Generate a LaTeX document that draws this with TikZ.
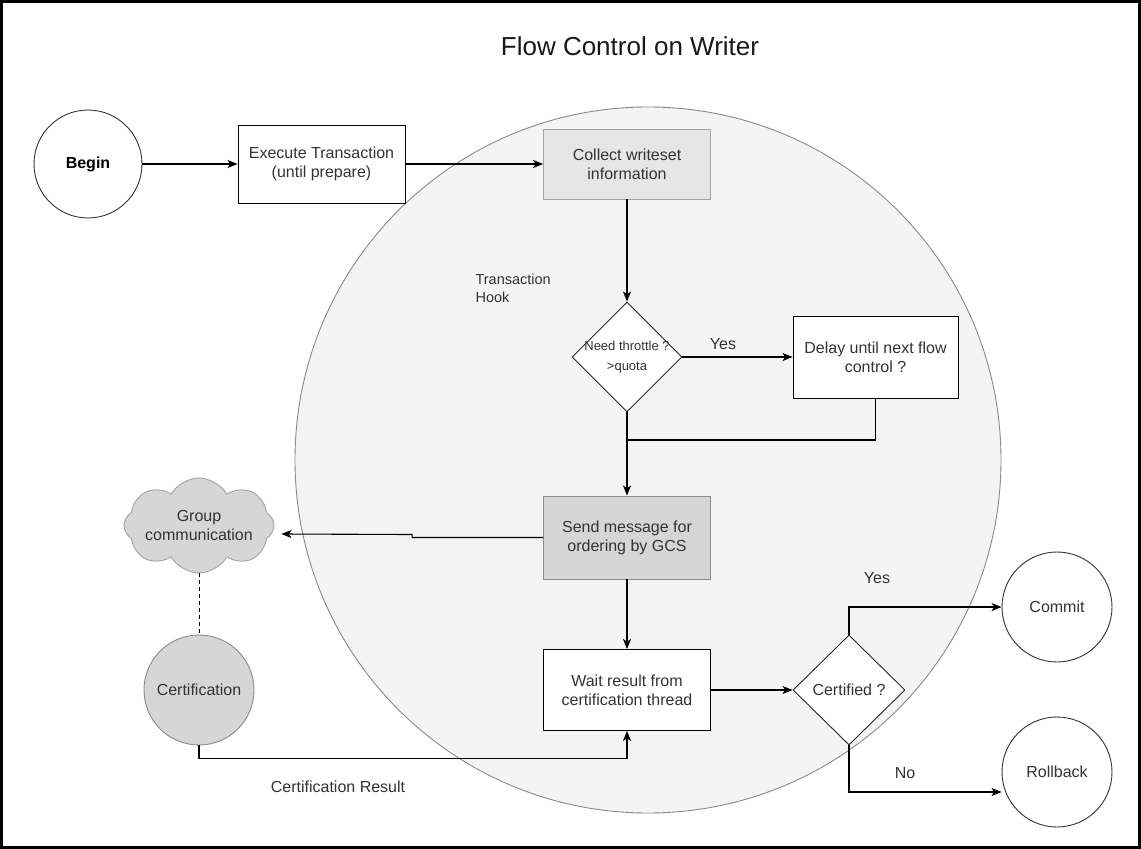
\documentclass[tikz,border=0pt]{standalone}
\usepackage{fontspec}
\setmainfont{Liberation Sans}
\usetikzlibrary{shapes.geometric,shapes.symbols,arrows.meta,calc}

\definecolor{hookfill}{HTML}{F4F4F4}
\definecolor{hookline}{HTML}{8A8A8A}
\definecolor{txt}{HTML}{333333}
\definecolor{lightbox}{HTML}{E6E6E6}
\definecolor{lightline}{HTML}{A3A3A3}
\definecolor{darkbox}{HTML}{D6D6D6}
\definecolor{darkline}{HTML}{8A8A8A}

\begin{document}
\begin{tikzpicture}[x=1pt,y=-1pt,
  every node/.style={font=\fontsize{16}{19}\selectfont, text=txt, align=center},
  stepbox/.style={draw=black, line width=0.9pt, fill=white, inner sep=0pt},
  graybox/.style={stepbox, draw=lightline, fill=lightbox},
  sendbox/.style={stepbox, draw=darkline, fill=darkbox},
  terminal/.style={circle, draw=black!80, line width=0.9pt, fill=white, inner sep=0pt, minimum size=110pt},
  decision/.style={diamond, draw=black!85, line width=0.9pt, fill=white, inner sep=0pt, aspect=1},
  flow/.style={draw=black, line width=1.1pt, -{Stealth[length=10pt,width=8pt,inset=2.5pt]}},
  plain/.style={draw=black, line width=1.1pt}
]
% page and frame
\fill[white] (0,0) rectangle (1141,849);
\draw[line width=3pt] (1.5,1.5) rectangle (1139.5,847.5);

% transaction hook region
\node[circle, draw=hookline, fill=hookfill, line width=0.9pt, minimum size=706pt, inner sep=0pt] (hook) at (648,460) {};

\node[font=\fontsize{26}{30}\selectfont, text=black!90] (title) at (630,46) {Flow Control on Writer};

% main column
\node[terminal, minimum size=108pt, font=\fontsize{16}{19}\selectfont\bfseries, text=black] (begin) at (88,164) {Begin};
\node[stepbox, minimum width=167pt, minimum height=78pt] (exec) at (321.5,164) {Execute Transaction\\(until prepare)};
\node[graybox, minimum width=167pt, minimum height=70pt] (collect) at (627,164) {Collect writeset\\information};
\node[align=left, anchor=west, font=\fontsize{14.5}{18}\selectfont] (hooklbl) at (472,288) {Transaction\\Hook};

\node[decision, minimum width=110pt, minimum height=110pt,
      label={[font=\fontsize{13}{20}\selectfont]center:Need throttle ?\\>quota}] (throttle) at (627,357) {};
\node[stepbox, minimum width=165pt, minimum height=82pt] (delay) at (875.5,357) {Delay until next flow\\control ?};
\coordinate (merge) at (627,440);

\node[sendbox, minimum width=167pt, minimum height=83pt] (send) at (627,537.5) {Send message for\\ordering by GCS};
\node[stepbox, minimum width=167pt, minimum height=81pt] (wait) at (627,690) {Wait result from\\certification thread};

\node[decision, minimum width=112pt, minimum height=110pt,
      label=center:Certified ?] (certd) at (849,690) {};
\node[terminal] (commit) at (1057,607) {Commit};
\node[terminal] (rollback) at (1057,772) {Rollback};

% group communication side
\node[cloud, cloud puffs=8, cloud puff arc=120, aspect=1.6, draw=lightline, fill=darkbox, line width=0.9pt,
      minimum width=150pt, minimum height=95pt, inner sep=0pt,
      label=center:Group\\communication] (cloud) at (199,525.5) {};
\node[terminal, draw=darkline, fill=darkbox] (cert) at (199,690) {Certification};

% edge labels
\node (yes1) at (723,344) {Yes};
\node (yes2) at (877,578) {Yes};
\node (no) at (905,773) {No};
\node (certres) at (338,787) {Certification Result};

% connectors
\draw[flow] (begin.east) -- (exec.west);
\draw[flow] (exec.east) -- (collect.west);
\draw[flow] (collect.south) -- (throttle.north);
\draw[flow] (throttle.east) -- (delay.west);
\draw[plain] (delay.south) |- (merge);
\draw[flow] (throttle.south) -- (send.north);
\draw[flow] (send.west) -- ++(-131,0) -- ++(0,-3) -- ($(cloud.east)+(7,8.5)$);
\draw[line width=1pt, dash pattern=on 4pt off 3pt] (cloud.south) -- (cert.north);
\draw[flow] (send.south) -- (wait.north);
\draw[flow] (cert.south) -- ++(0,13) -| (wait.south);
\draw[flow] (wait.east) -- (certd.west);
\draw[flow] (certd.north) |- (commit.west);
\draw[flow] (certd.south) |- ($(rollback.west)+(0,20)$);
\end{tikzpicture}
\end{document}
